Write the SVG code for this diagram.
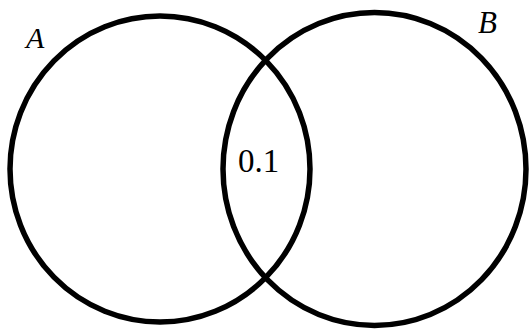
<svg xmlns="http://www.w3.org/2000/svg" width="529" height="329" viewBox="0 0 529 329">
<style>
.set{fill:none;stroke:#000;stroke-width:5.5}
.lbl{font-family:'Liberation Serif','Times New Roman',serif;font-style:italic;fill:#000}
.val{font-family:'Liberation Serif','Times New Roman',serif;fill:#000}
</style>
<rect width="529" height="329" fill="#fff"/>
<g id="setA">
<ellipse class="set" cx="160" cy="169" rx="150" ry="153"/>
<text class="lbl" x="26" y="48" font-size="30">A</text>
</g>
<g id="setB">
<ellipse class="set" cx="374.5" cy="169" rx="151.5" ry="156.5"/>
<text class="lbl" x="478" y="33" font-size="31">B</text>
</g>
<g id="intersection">
<text class="val" x="238" y="172" font-size="33">0.1</text>
</g>
<g id="connectors"/>
</svg>
